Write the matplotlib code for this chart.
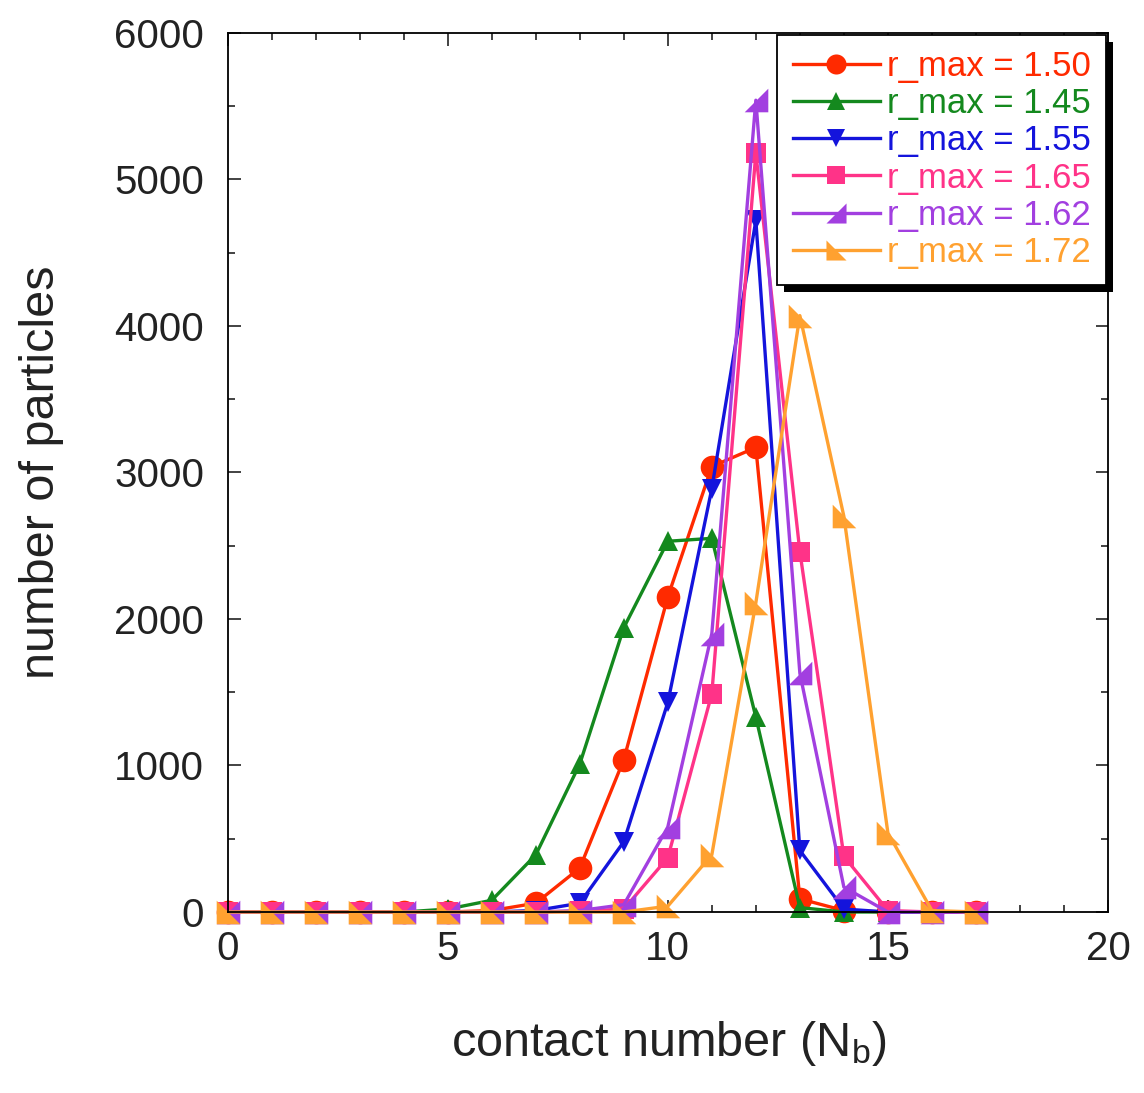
import matplotlib
matplotlib.use("Agg")
import matplotlib.pyplot as plt
from matplotlib.patches import Rectangle
from matplotlib.transforms import IdentityTransform
from matplotlib.ticker import MultipleLocator

plt.rcParams["font.family"] = ["Liberation Sans", "DejaVu Sans"]
plt.rcParams["mathtext.fontset"] = "custom"
plt.rcParams["mathtext.rm"] = "Liberation Sans"
plt.rcParams["mathtext.it"] = "Liberation Sans"

# contact number bins
nb = list(range(18))

# particle counts per r_max
r150 = [0, 0, 0, 0, 0, 0, 10, 60, 300, 1040, 2150, 3040, 3170, 90, 10, 0, 0, 0]
r145 = [0, 0, 0, 0, 0, 20, 80, 390, 1010, 1940, 2530, 2550, 1330, 30, 0, 0, 0, 0]
r155 = [0, 0, 0, 0, 0, 0, 0, 10, 60, 480, 1430, 2890, 4720, 420, 20, 0, 0, 0]
r165 = [0, 0, 0, 0, 0, 0, 0, 0, 5, 20, 370, 1490, 5180, 2460, 380, 10, 0, 0]
r162 = [0, 0, 0, 0, 0, 0, 0, 0, 10, 50, 580, 1900, 5540, 1630, 170, 0, 0, 0]
r172 = [0, 0, 0, 0, 0, 0, 0, 0, 0, 0, 40, 390, 2110, 4070, 2700, 540, 10, 0]

labels = ["r_max = 1.50", "r_max = 1.45", "r_max = 1.55",
          "r_max = 1.65", "r_max = 1.62", "r_max = 1.72"]
colors = ["#ff2a00", "#14891e", "#1414dc", "#ff3388", "#a23fe0", "#ffa130"]

# KaleidaGraph-like marker shapes
tri_purple = [(-1, -1), (1, -1), (1, 1), (-1, -1)]
tri_orange = [(-1, 1), (-1, -1), (1, -1), (-1, 1)]
markers = ["o", "^", "v", "s", tri_purple, tri_orange]
msizes = [17, 15, 15, 15, 17, 17]

fig = plt.figure(figsize=(11.44, 10.93), dpi=100)
ax = fig.add_axes([0.199, 0.1656, 0.7695, 0.8044])

series = [r150, r145, r155, r165, r162, r172]
for ys, lab, c, m, ms in zip(series, labels, colors, markers, msizes):
    ax.plot(nb, ys, color=c, marker=m, markersize=ms, linewidth=2.4,
            markeredgewidth=0, label=lab, clip_on=False)

ax.set_xlim(0, 20)
ax.set_ylim(0, 6000)
ax.xaxis.set_major_locator(MultipleLocator(5))
ax.xaxis.set_minor_locator(MultipleLocator(1))
ax.yaxis.set_major_locator(MultipleLocator(1000))
ax.yaxis.set_minor_locator(MultipleLocator(500))
ax.tick_params(which="both", direction="in", top=True, right=True, labelsize=29,
               colors="#222222", width=1.2)
ax.tick_params(which="major", length=9)
ax.tick_params(which="minor", length=5)
ax.tick_params(axis="y", which="major", pad=17)
ax.tick_params(axis="x", which="major", pad=13)
for sp in ax.spines.values():
    sp.set_linewidth(1.3)

fig.text(0.585, 1 - 1043 / 1093, r"contact number (N$_\mathregular{b}$)",
         fontsize=35, ha="center", va="center", color="#222222")
fig.text(0.036, 1 - 472 / 1093, "number of particles", fontsize=35,
         rotation=90, ha="center", va="center", color="#222222")

leg = ax.legend(loc="upper right", bbox_to_anchor=(1.0, 1.0), fontsize=25,
                frameon=True, fancybox=False, edgecolor="black",
                framealpha=1.0, handlelength=2.5, handletextpad=0.2,
                labelspacing=0.12, borderpad=0.45, markerscale=0.85,
                borderaxespad=0.05)
leg.get_frame().set_linewidth(1.3)
leg.set_zorder(6)
for txt, c in zip(leg.get_texts(), colors):
    txt.set_color(c)

# heavy black drop shadow behind the legend box
fig.canvas.draw()
bb = leg.get_frame().get_window_extent()
shadow = Rectangle((bb.x0 + 7, bb.y0 - 7), bb.width, bb.height,
                   transform=IdentityTransform(), facecolor="black",
                   edgecolor="none", zorder=5.9, clip_on=False)
ax.add_patch(shadow)

fig.savefig("out.png", dpi=100)
